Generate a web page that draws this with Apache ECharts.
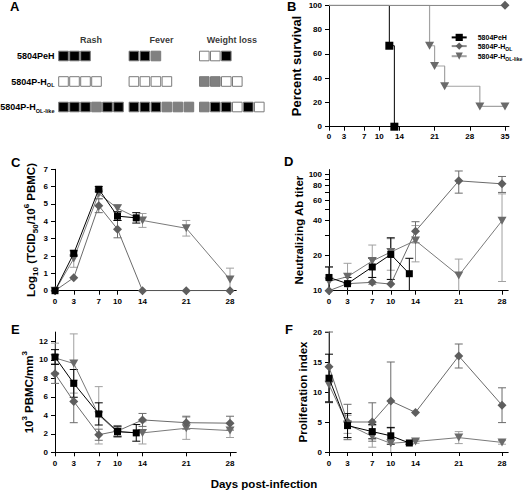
<!DOCTYPE html>
<html><head><meta charset="utf-8">
<script src="https://cdn.jsdelivr.net/npm/echarts@6.0.0/dist/echarts.min.js"></script>
<style>html,body{margin:0;padding:0;background:#fff}#c{width:528px;height:491px}</style>
</head><body><div id="c"></div>
<script>
// ---------------- DATA ----------------
const groupNames = ['5804PeH', '5804P-HOL', '5804P-HOL-like'];
const symptomNames = ['Rash', 'Fever', 'Weight loss'];
// K = black, G = gray, W = white (one box per animal)
const rashScores   = [['K','K','K'], ['W','W','W','W'], ['K','K','K','G','K','K']];
const feverScores  = [['K','K','G'], ['W','W','W','W'], ['K','K','K','G','G','G']];
const weightScores = [['W','W','K'], ['G','G','W','W'], ['G','K','K','W','K','W']];

// B: survival
const survivalTicks = [0, 3, 7, 10, 14, 21, 28, 35];
const percentTicks = [0, 20, 40, 60, 80, 100];
const survDaysPeH = [0, 12, 13];
const survPeH = [100, 66.7, 0];
const survDaysHOL = [0, 35];
const survHOL = [100, 100];
const survDaysHOLlike = [0, 20, 21, 23, 30, 35];
const survHOLlike = [100, 66.7, 50, 33.3, 16.7, 16.7];

// common day axis
const dayTicks = [0, 3, 7, 10, 14, 21, 28];
const daysPeH = [0, 3, 7, 10, 13];
const daysOther = [0, 3, 7, 10, 14, 21, 28];

// C: virus load
const virusTicks = [0, 1, 2, 3, 4, 5, 6, 7];
const virusPeH = [0, 2.15, 5.85, 4.3, 4.2];
const virusPeHErr = [0, 0.15, 0.15, 0.25, 0.3];
const virusHOL = [0, 0.75, 4.9, 3.55, 0, 0, 0];
const virusHOLErr = [0, 0, 0.4, 0.5, 0, 0, 0];
const virusHOLlike = [0, 1.85, 5.6, 4.75, 4.05, 3.6, 0.65];
const virusHOLlikeErr = [0, 0.5, 0.3, 0.2, 0.4, 0.45, 0.65];

// D: neutralizing Ab titer
const titerTicks = [10, 20, 30, 40, 50, 60, 70, 80, 90, 100];
const titerLabels = [10, 20, 40, 60, 80, 100];
const abPeH = [13, 11.5, 16, 20.5, 14];
const abPeHErr = [3, 1.5, 3, 8, 5];
const abHOL = [10, 11.5, 11.8, 11.4, 32.5, 88, 83];
const abHOLErr = [0, 0, 0, 0, 6.7, 19, 13];
const abHOLlike = [12, 13.2, 18, 21.5, 27, 13.5, 40];
const abHOLlikeErr = [4, 4, 6.7, 6.5, 9.3, 5.2, 28];

// E: PBMC count
const pbmcTicks = [0, 2, 4, 6, 8, 10, 12];
const pbmcPeH = [10.3, 7.45, 4.15, 2.25, 2.1];
const pbmcPeHErr = [0.8, 1.5, 1.2, 0.5, 0.9];
const pbmcHOL = [8.5, 5.5, 1.9, 2.3, 3.5, 3.2, 3.15];
const pbmcHOLErr = [1.05, 2.3, 0.6, 0.6, 0.7, 0.7, 0.75];
const pbmcHOLlike = [10.2, 9.6, 4.0, 2.2, 2.1, 2.6, 2.35];
const pbmcHOLlikeErr = [1.6, 3.2, 3.1, 0.6, 1.2, 1.2, 0.75];

// F: proliferation index
const proTicks = [0, 5, 10, 15, 20];
const proPeH = [12.3, 4.4, 3.4, 2.7, 1.5];
const proPeHErr = [4, 2.0, 1.2, 1.4, 0.2];
const proHOL = [14.2, 5.0, 5.0, 8.5, 6.6, 16.0, 7.8];
const proHOLErr = [5.8, 2.95, 3.2, 6.5, 0, 2.0, 2.9];
const proHOLlike = [11.2, 4.6, 2.6, 1.45, 1.75, 2.4, 1.6];
const proHOLlikeErr = [3, 1.5, 1.8, 2.5, 0.3, 1.0, 0.3];

// ---------------- STYLE ----------------
const FONT = '"Liberation Sans", Arial, sans-serif';
const scoreColors = { K: '#000000', G: '#808080', W: '#ffffff' };
const GROUP_STEP = 6.4;
const HEADER_ROW = -0.62;

const st = {
  PeH:     { name: groupNames[0], symbol: 'rect', size: 7, rotate: 0, marker: '#000', line: '#000', err: '#000', z: 4 },
  HOL:     { name: groupNames[1], symbol: 'diamond', size: 9, rotate: 0, marker: '#5e5e5e', line: '#6b6b6b', err: '#6b6b6b', z: 3 },
  HOLlike: { name: groupNames[2], symbol: 'triangle', size: [9, 8], rotate: 180, marker: '#6a6a6a', line: '#7a7a7a', err: '#a0a0a0', z: 2 }
};

function rich(size, sub) {
  const base = { fontFamily: FONT, fontWeight: 'bold', color: '#000' };
  return {
    n: Object.assign({ fontSize: size, lineHeight: Math.round(size * 1.45) }, base),
    s: Object.assign({ fontSize: sub, verticalAlign: 'bottom' }, base),
    p: Object.assign({ fontSize: sub, verticalAlign: 'top' }, base)
  };
}
function richName(name) {
  if (name.indexOf('5804P-H') === 0) return '{n|5804P-H}{s|' + name.slice(7) + '}';
  return '{n|' + name + '}';
}

// ---------------- BUILDERS ----------------
function xAx(gridIndex, max, ticks, margin) {
  return {
    type: 'value', gridIndex, min: 0, max,
    axisLine: { show: true, onZero: false, lineStyle: { color: '#000', width: 1 } },
    axisTick: { show: true, length: 4, customValues: ticks, lineStyle: { color: '#000', width: 1 } },
    axisLabel: { customValues: ticks, margin, fontSize: 8, fontWeight: 'bold', color: '#000', fontFamily: FONT, formatter: v => String(v) },
    splitLine: { show: false }
  };
}
function yAx(gridIndex, min, max, ticks, labels, name, nameGap, nameSize, type) {
  return {
    type: type || 'value', gridIndex, min, max, logBase: 10,
    axisLine: { show: true, onZero: false, lineStyle: { color: '#000', width: 1 } },
    axisTick: { show: true, length: 4, customValues: ticks, lineStyle: { color: '#000', width: 1 } },
    axisLabel: { customValues: labels, margin: 7, fontSize: 8, fontWeight: 'bold', color: '#000', fontFamily: FONT, formatter: v => String(v) },
    splitLine: { show: false },
    name, nameLocation: 'middle', nameRotate: 90, nameGap,
    nameTextStyle: { fontSize: nameSize, fontWeight: 'bold', fontFamily: FONT, color: '#000', rich: rich(nameSize, 8) }
  };
}
function lineSeries(idx, s, data, extra) {
  return Object.assign({
    type: 'line', name: s.name, xAxisIndex: idx, yAxisIndex: idx, data,
    symbol: s.symbol, symbolSize: s.size, symbolRotate: s.rotate, z: s.z + 2,
    lineStyle: { color: s.line, width: 1 },
    itemStyle: { color: s.marker, borderWidth: 0 },
    emphasis: { disabled: true }, silent: true
  }, extra || {});
}
function errSeries(idx, s, days, vals, errs, yMin) {
  const data = [];
  days.forEach((d, i) => { if (errs[i] > 0) data.push([d, vals[i] - errs[i], vals[i] + errs[i]]); });
  const color = s.err;
  return {
    type: 'custom', xAxisIndex: idx, yAxisIndex: idx, z: 1, silent: true, data,
    encode: { x: 0, y: [1, 2] },
    renderItem(params, api) {
      const x = api.value(0);
      const lo = api.coord([x, Math.max(api.value(1), yMin)]);
      const hi = api.coord([x, api.value(2)]);
      const cw = 4;
      const sty = { stroke: color, lineWidth: 1, fill: null };
      const ch = [
        { type: 'line', shape: { x1: lo[0], y1: lo[1], x2: hi[0], y2: hi[1] }, style: sty },
        { type: 'line', shape: { x1: hi[0] - cw, y1: hi[1], x2: hi[0] + cw, y2: hi[1] }, style: sty }
      ];
      if (api.value(1) > yMin) ch.push({ type: 'line', shape: { x1: lo[0] - cw, y1: lo[1], x2: lo[0] + cw, y2: lo[1] }, style: sty });
      return { type: 'group', children: ch };
    }
  };
}
function panel(idx, yMin, sets) {
  const out = [];
  sets.forEach(([s, days, vals, errs]) => {
    out.push(errSeries(idx, s, days, vals, errs, yMin));
    out.push(lineSeries(idx, s, days.map((d, i) => [d, vals[i]])));
  });
  return out;
}
function survData(days, vals) {
  return days.map((d, i) => i === 0 ? { value: [d, vals[i]], symbol: 'none' } : [d, vals[i]]);
}

// Panel A boxes
const boxData = [];
[rashScores, feverScores, weightScores].forEach((set, g) => set.forEach((row, r) => row.forEach((sc, i) => {
  boxData.push({ value: [g * GROUP_STEP + i, r], itemStyle: { color: scoreColors[sc] } });
})));
const headerData = symptomNames.map((n, g) => ({ value: [g * GROUP_STEP + 2.5, HEADER_ROW], name: n }));

const titleStyle = { fontSize: 13, fontWeight: 'bold', fontFamily: FONT, color: '#000' };
const letters = [['A', 10, 0], ['B', 287, 0], ['C', 11, 156], ['D', 284, 155], ['E', 11, 323], ['F', 285, 323]];

const option = {
  animation: false,
  backgroundColor: '#fff',
  title: letters.map(([t, l, tp]) => ({ text: t, left: l, top: tp, padding: 0, textStyle: titleStyle }))
    .concat([{ text: 'Days post-infection', left: 'center', top: 478, padding: 0,
      textStyle: { fontSize: 11.5, fontWeight: 'bold', fontFamily: FONT, color: '#000' } }]),
  legend: {
    data: groupNames, orient: 'vertical', left: 445.7, top: 28.8, itemWidth: 15, itemHeight: 9, itemGap: 1.5,
    selectedMode: false, formatter: n => richName(n),
    textStyle: { padding: [0, 0, 0, 6], rich: rich(7, 5) }
  },
  grid: [
    { left: 58, top: 25.4, width: 209, height: 94.35 },
    { left: 329, top: 5.3, width: 180, height: 121.4 },
    { left: 55, top: 169.3, width: 181.25, height: 121.4 },
    { left: 329, top: 169.6, width: 179.2, height: 121.1 },
    { left: 55, top: 332.05, width: 181.25, height: 120.25 },
    { left: 329, top: 332, width: 179.2, height: 120 }
  ].map(g => Object.assign({ containLabel: false, outerBoundsMode: 'none' }, g)),
  xAxis: [
    { type: 'value', gridIndex: 0, min: -0.5, max: 18.5, show: false },
    xAx(1, 35.8, survivalTicks, 6),
    xAx(2, 29, dayTicks, 7),
    xAx(3, 29, dayTicks, 7),
    xAx(4, 29, dayTicks, 7),
    xAx(5, 29, dayTicks, 7)
  ],
  yAxis: [
    {
      type: 'value', gridIndex: 0, min: -1.2, max: 2.5, inverse: true,
      axisLine: { show: false }, axisTick: { show: false }, splitLine: { show: false },
      axisLabel: { customValues: [0, 1, 2], margin: 3.5, formatter: v => richName(groupNames[v]), rich: rich(9, 5.5) }
    },
    yAx(1, 0, 100, percentTicks, percentTicks, 'Percent survival', 26, 13),
    yAx(2, 0, 7, virusTicks, virusTicks, '{n|Log}{s|10}{n| (TCID}{s|50}{n|/10}{p|6}{n| PBMC)}', 15, 11.5),
    yAx(3, 10, 110, titerTicks, titerLabels, 'Neutralizing Ab titer', 20, 11.5, 'log'),
    yAx(4, 0, 13, pbmcTicks, pbmcTicks, '{n|10}{p|3}{n| PBMC/mm}{p|3}', 16, 11.5),
    yAx(5, 0, 20, proTicks, proTicks, 'Proliferation index', 20, 11.5)
  ],
  series: [
    {
      type: 'scatter', xAxisIndex: 0, yAxisIndex: 0, data: boxData, symbol: 'rect', symbolSize: 9.6, clip: false,
      itemStyle: { borderColor: '#7a7a7a', borderWidth: 1, opacity: 1 }, silent: true
    },
    {
      type: 'scatter', xAxisIndex: 0, yAxisIndex: 0, data: headerData, symbolSize: 0, clip: false, silent: true,
      label: { show: true, position: 'inside', formatter: '{b}', fontSize: 9, fontWeight: 'bold', fontFamily: FONT, color: '#000' }
    },
    lineSeries(1, st.PeH, survData(survDaysPeH, survPeH), { step: 'end', symbolSize: 8, z: 3 }),
    lineSeries(1, st.HOLlike, survData(survDaysHOLlike, survHOLlike), { step: 'end', lineStyle: { color: '#a3a3a3', width: 1.2 }, z: 4 }),
    lineSeries(1, st.HOL, survData(survDaysHOL, survHOL), { step: 'end', lineStyle: { color: '#8a8a8a', width: 1.2 }, z: 5 })
  ].concat(
    panel(2, 0, [[st.HOLlike, daysOther, virusHOLlike, virusHOLlikeErr], [st.HOL, daysOther, virusHOL, virusHOLErr], [st.PeH, daysPeH, virusPeH, virusPeHErr]]),
    panel(3, 10, [[st.HOLlike, daysOther, abHOLlike, abHOLlikeErr], [st.HOL, daysOther, abHOL, abHOLErr], [st.PeH, daysPeH, abPeH, abPeHErr]]),
    panel(4, 0, [[st.HOLlike, daysOther, pbmcHOLlike, pbmcHOLlikeErr], [st.HOL, daysOther, pbmcHOL, pbmcHOLErr], [st.PeH, daysPeH, pbmcPeH, pbmcPeHErr]]),
    panel(5, 0, [[st.HOLlike, daysOther, proHOLlike, proHOLlikeErr], [st.HOL, daysOther, proHOL, proHOLErr], [st.PeH, daysPeH, proPeH, proPeHErr]])
  )
};

const chart = echarts.init(document.getElementById('c'), null, { renderer: 'svg' });
chart.setOption(option);
</script></body></html>
